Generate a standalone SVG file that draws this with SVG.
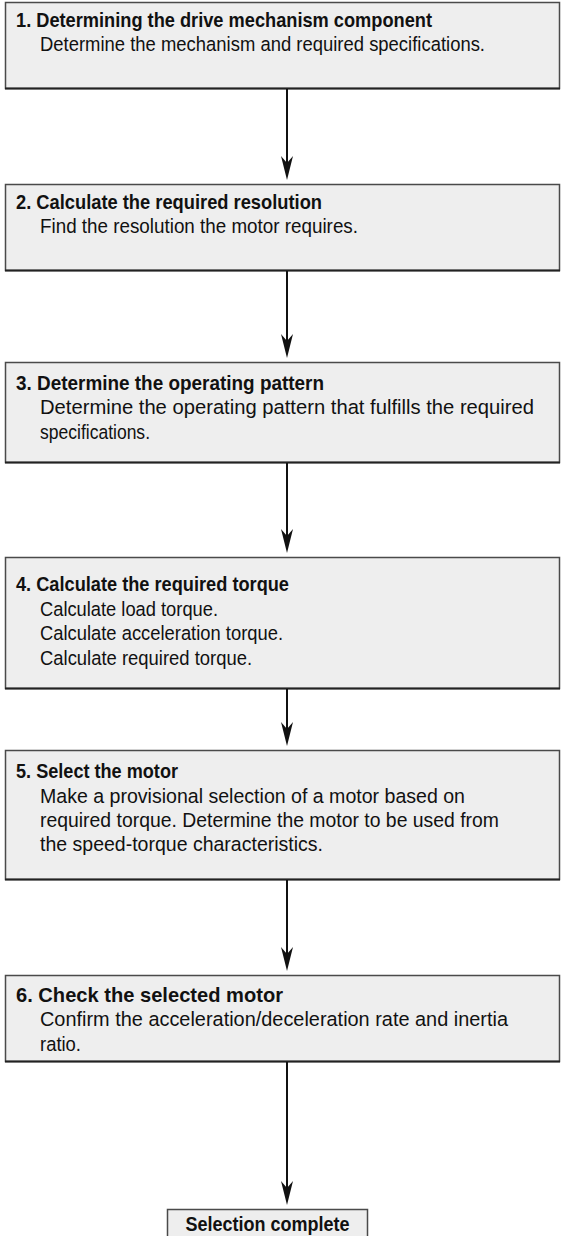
<svg xmlns="http://www.w3.org/2000/svg" width="561" height="1236" viewBox="0 0 561 1236">
<defs>
<style>
.box{fill:#eeeeee;stroke:#4a4a4a;stroke-width:1.5}
.bot{stroke:#222;stroke-width:2}
.t{font-family:"Liberation Sans",Arial,sans-serif;font-size:20.5px;font-weight:bold;fill:#111}
.b{font-family:"Liberation Sans",Arial,sans-serif;font-size:20.5px;fill:#111}
.ln{stroke:#111;stroke-width:2;fill:none}
.hd{fill:#111}
</style>
</defs>
<rect width="561" height="1236" fill="#ffffff"/>
<g id="step1">
<rect class="box" x="5.5" y="2.5" width="554" height="86"/>
<line class="bot" x1="5" y1="88.5" x2="560" y2="88.5"/>
<text class="t" x="16" y="27" textLength="416" lengthAdjust="spacingAndGlyphs">1. Determining the drive mechanism component</text>
<text class="b" x="40" y="51" textLength="445" lengthAdjust="spacingAndGlyphs">Determine the mechanism and required specifications.</text>
</g>
<g id="step2">
<rect class="box" x="5.5" y="184.5" width="554" height="86"/>
<line class="bot" x1="5" y1="270.5" x2="560" y2="270.5"/>
<text class="t" x="16" y="209" textLength="306" lengthAdjust="spacingAndGlyphs">2. Calculate the required resolution</text>
<text class="b" x="40" y="233" textLength="318" lengthAdjust="spacingAndGlyphs">Find the resolution the motor requires.</text>
</g>
<g id="step3">
<rect class="box" x="5.5" y="362.5" width="554" height="100"/>
<line class="bot" x1="5" y1="462.5" x2="560" y2="462.5"/>
<text class="t" x="16" y="390" textLength="308" lengthAdjust="spacingAndGlyphs">3. Determine the operating pattern</text>
<text class="b" x="40" y="414" textLength="494" lengthAdjust="spacingAndGlyphs">Determine the operating pattern that fulfills the required</text>
<text class="b" x="40" y="439" textLength="110" lengthAdjust="spacingAndGlyphs">specifications.</text>
</g>
<g id="step4">
<rect class="box" x="5.5" y="557.5" width="554" height="131"/>
<line class="bot" x1="5" y1="688.5" x2="560" y2="688.5"/>
<text class="t" x="16" y="591" textLength="273" lengthAdjust="spacingAndGlyphs">4. Calculate the required torque</text>
<text class="b" x="40" y="616" textLength="178" lengthAdjust="spacingAndGlyphs">Calculate load torque.</text>
<text class="b" x="40" y="640" textLength="243" lengthAdjust="spacingAndGlyphs">Calculate acceleration torque.</text>
<text class="b" x="40" y="665" textLength="212" lengthAdjust="spacingAndGlyphs">Calculate required torque.</text>
</g>
<g id="step5">
<rect class="box" x="5.5" y="750.5" width="554" height="129"/>
<line class="bot" x1="5" y1="879.5" x2="560" y2="879.5"/>
<text class="t" x="16" y="778" textLength="162" lengthAdjust="spacingAndGlyphs">5. Select the motor</text>
<text class="b" x="40" y="803" textLength="425" lengthAdjust="spacingAndGlyphs">Make a provisional selection of a motor based on</text>
<text class="b" x="40" y="827" textLength="459" lengthAdjust="spacingAndGlyphs">required torque. Determine the motor to be used from</text>
<text class="b" x="40" y="851" textLength="283" lengthAdjust="spacingAndGlyphs">the speed-torque characteristics.</text>
</g>
<g id="step6">
<rect class="box" x="5.5" y="975.5" width="554" height="86"/>
<line class="bot" x1="5" y1="1061.5" x2="560" y2="1061.5"/>
<text class="t" x="16" y="1002" textLength="267" lengthAdjust="spacingAndGlyphs">6. Check the selected motor</text>
<text class="b" x="40" y="1026" textLength="468" lengthAdjust="spacingAndGlyphs">Confirm the acceleration/deceleration rate and inertia</text>
<text class="b" x="40" y="1051" textLength="41" lengthAdjust="spacingAndGlyphs">ratio.</text>
</g>
<g id="done">
<rect class="box" x="167.5" y="1209.5" width="200" height="30"/>
<text class="t" x="267.5" y="1231" text-anchor="middle" textLength="164" lengthAdjust="spacingAndGlyphs">Selection complete</text>
</g>
<g id="connectors">
<line class="ln" x1="287" y1="89" x2="287" y2="165"/>
<path class="hd" d="M287,180 L281,156 L287,163 L293,156 Z"/>
<line class="ln" x1="287" y1="271" x2="287" y2="343"/>
<path class="hd" d="M287,358 L281,334 L287,341 L293,334 Z"/>
<line class="ln" x1="287" y1="463" x2="287" y2="538"/>
<path class="hd" d="M287,553 L281,529 L287,536 L293,529 Z"/>
<line class="ln" x1="287" y1="689" x2="287" y2="731"/>
<path class="hd" d="M287,746 L281,722 L287,729 L293,722 Z"/>
<line class="ln" x1="287" y1="880" x2="287" y2="956"/>
<path class="hd" d="M287,971 L281,947 L287,954 L293,947 Z"/>
<line class="ln" x1="287" y1="1062" x2="287" y2="1190"/>
<path class="hd" d="M287,1205 L281,1181 L287,1188 L293,1181 Z"/>
</g>
</svg>
